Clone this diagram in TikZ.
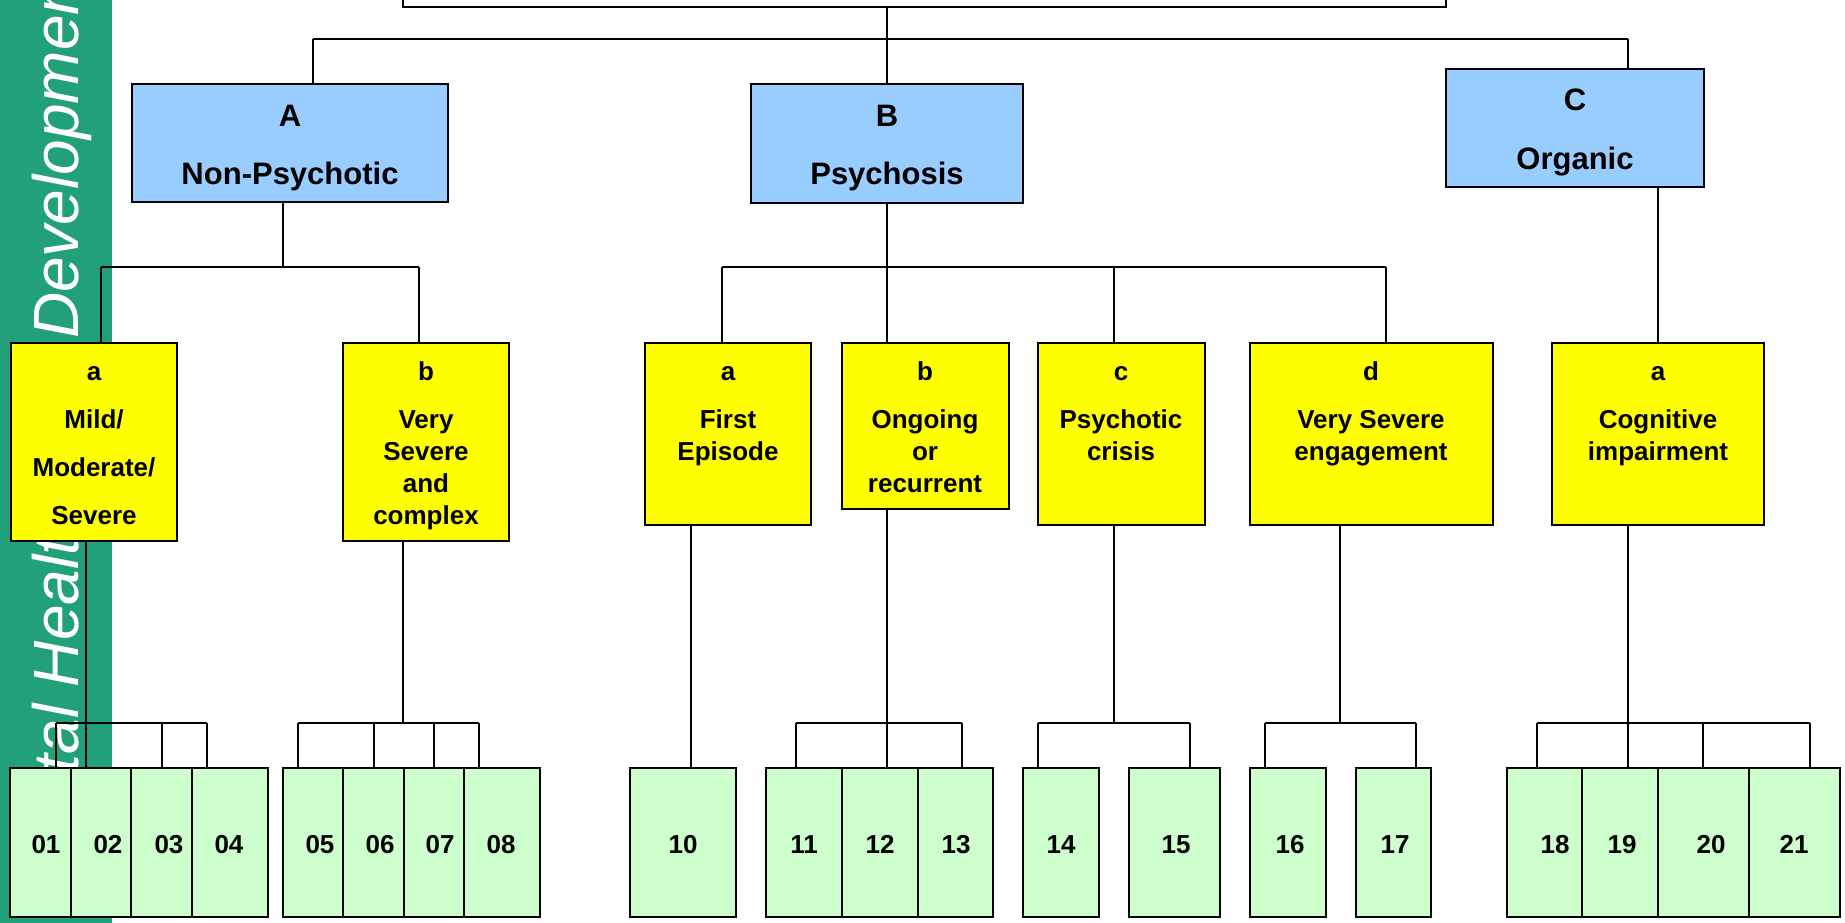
\documentclass[tikz,border=0pt]{standalone}
\usepackage{fontspec}
\setmainfont{Liberation Sans}
\usetikzlibrary{fit}
\definecolor{band}{RGB}{34,160,122}
\definecolor{bluebox}{RGB}{153,204,255}
\definecolor{yelbox}{RGB}{255,255,0}
\definecolor{grnbox}{RGB}{204,255,204}
\begin{document}
\begin{tikzpicture}[x=1pt,y=-1pt,
  box/.style={draw=black, line width=2pt, inner sep=0pt, rectangle},
  topbox/.style={box, fill=bluebox},
  catbox/.style={box, fill=yelbox},
  numbox/.style={box, fill=grnbox},
  conn/.style={draw=black, line width=1.8pt},
  bigtxt/.style={font=\bfseries\fontsize{31}{36}\selectfont, anchor=base, inner sep=0pt},
  ytxt/.style={font=\bfseries\fontsize{26}{32}\selectfont, anchor=base, inner sep=0pt, align=center},
  ytxtwide/.style={font=\bfseries\fontsize{26}{48}\selectfont, anchor=base, inner sep=0pt, align=center},
  numtxt/.style={font=\bfseries\fontsize{26}{32}\selectfont, anchor=base, inner sep=0pt},
  bandtxt/.style={rotate=90, anchor=base west, inner sep=0pt, text=white, font=\itshape\fontsize{64}{70}\selectfont}]
\useasboundingbox (0,0) rectangle (1845,923);
\clip (0,0) rectangle (1845,923);
% side band
\fill[band] (0,-5) rectangle (112,930);
\node[bandtxt] (bandM) at (78,897) {Mental Health};
\node[bandtxt] (bandD) at (78,339) {Development};

% top boxes
\node[box, fill=white, fit={(403,-40)(1446,7)}] (top) {};
\node[topbox, fit={(132,84)(448,202)}] (A) {};
\node[topbox, fit={(751,84)(1023,203)}] (B) {};
\node[topbox, fit={(1446,69)(1704,187)}] (C) {};

% connectors level 1
\coordinate (bus0L) at (313,39);
\coordinate (bus0R) at (1628,39);
\draw[conn] (bus0L) -- (bus0R);
\draw[conn] (top.south -| B.north) -- (B.north);
\draw[conn] (bus0L) -- (bus0L |- A.north);
\draw[conn] (bus0R) -- (bus0R |- C.north);

% category boxes
\node[catbox, fit={(11,343)(177,541)}] (Aa) {};
\node[catbox, fit={(343,343)(509,541)}] (Ab) {};
\node[catbox, fit={(645,343)(811,525)}] (Ba) {};
\node[catbox, fit={(842,343)(1009,509)}] (Bb) {};
\node[catbox, fit={(1038,343)(1205,525)}] (Bc) {};
\node[catbox, fit={(1250,343)(1493,525)}] (Bd) {};
\node[catbox, fit={(1552,343)(1764,525)}] (Ca) {};

% connectors level 2
\coordinate (aD) at (283,267);
\coordinate (aL) at (101,267);
\coordinate (aR) at (419,267);
\draw[conn] (aD |- A.south) -- (aD);
\draw[conn] (aL) -- (aR);
\draw[conn] (aL) -- (aL |- Aa.north);
\draw[conn] (aR) -- (aR |- Ab.north);

\coordinate (bL) at (722,267);
\coordinate (bR) at (1386,267);
\coordinate (bC) at (1114,267);
\draw[conn] (B.south) -- (B.south |- bL);
\draw[conn] (bL) -- (bR);
\draw[conn] (bL) -- (bL |- Ba.north);
\draw[conn] (B.south |- bL) -- (B.south |- Bb.north);
\draw[conn] (bC) -- (bC |- Bc.north);
\draw[conn] (bR) -- (bR |- Bd.north);

\coordinate (cD) at (1658,300);
\draw[conn] (cD |- C.south) -- (cD |- Ca.north);

% number boxes
\foreach \n/\xa/\xb in {01/10/71, 02/71/131, 03/131/192, 04/192/268,
  05/283/343, 06/343/404, 07/404/464, 08/464/540, 10/630/736,
  11/766/842, 12/842/918, 13/918/993, 14/1023/1099, 15/1129/1220,
  16/1250/1326, 17/1356/1431, 18/1507/1582, 19/1582/1658,
  20/1658/1749, 21/1749/1840}
  {\node[numbox, fit={(\xa,768)(\xb,917)}] (n\n) {};}

% connectors level 3
\coordinate (g1) at (86,723);
\coordinate (g1L) at (56,723);
\coordinate (g1a) at (162,723);
\coordinate (g1R) at (207,723);
\draw[conn] (g1 |- Aa.south) -- (g1 |- n02.north);
\draw[conn] (g1L) -- (g1R);
\draw[conn] (g1L) -- (g1L |- n01.north);
\draw[conn] (g1a) -- (g1a |- n03.north);
\draw[conn] (g1R) -- (g1R |- n04.north);

\coordinate (g2) at (403,723);
\coordinate (g2L) at (298,723);
\coordinate (g2a) at (374,723);
\coordinate (g2b) at (434,723);
\coordinate (g2R) at (479,723);
\draw[conn] (g2 |- Ab.south) -- (g2);
\draw[conn] (g2L) -- (g2R);
\draw[conn] (g2L) -- (g2L |- n05.north);
\draw[conn] (g2a) -- (g2a |- n06.north);
\draw[conn] (g2b) -- (g2b |- n07.north);
\draw[conn] (g2R) -- (g2R |- n08.north);

\coordinate (g3) at (691,723);
\draw[conn] (g3 |- Ba.south) -- (g3 |- n10.north);

\coordinate (g4) at (887,723);
\coordinate (g4L) at (796,723);
\coordinate (g4R) at (962,723);
\draw[conn] (g4 |- Bb.south) -- (g4 |- n12.north);
\draw[conn] (g4L) -- (g4R);
\draw[conn] (g4L) -- (g4L |- n11.north);
\draw[conn] (g4R) -- (g4R |- n13.north);

\coordinate (g5) at (1114,723);
\coordinate (g5L) at (1038,723);
\coordinate (g5R) at (1190,723);
\draw[conn] (g5 |- Bc.south) -- (g5);
\draw[conn] (g5L) -- (g5R);
\draw[conn] (g5L) -- (g5L |- n14.north);
\draw[conn] (g5R) -- (g5R |- n15.north);

\coordinate (g6) at (1340,723);
\coordinate (g6L) at (1265,723);
\coordinate (g6R) at (1416,723);
\draw[conn] (g6 |- Bd.south) -- (g6);
\draw[conn] (g6L) -- (g6R);
\draw[conn] (g6L) -- (g6L |- n16.north);
\draw[conn] (g6R) -- (g6R |- n17.north);

\coordinate (g7) at (1628,723);
\coordinate (g7L) at (1537,723);
\coordinate (g7a) at (1703,723);
\coordinate (g7R) at (1810,723);
\draw[conn] (g7 |- Ca.south) -- (g7 |- n19.north);
\draw[conn] (g7L) -- (g7R);
\draw[conn] (g7L) -- (g7L |- n18.north);
\draw[conn] (g7a) -- (g7a |- n20.north);
\draw[conn] (g7R) -- (g7R |- n21.north);

% texts
\node[bigtxt] (tA1) at (290,127) {A};
\node[bigtxt] (tA2) at (290,184) {Non-Psychotic};
\node[bigtxt] (tB1) at (887,127) {B};
\node[bigtxt] (tB2) at (887,185) {Psychosis};
\node[bigtxt] (tC1) at (1575,111) {C};
\node[bigtxt] (tC2) at (1575,169) {Organic};

\foreach \nm/\x/\l in {Aa/94/a, Ab/426/b, Ba/728/a, Bb/925/b, Bc/1121/c, Bd/1371/d, Ca/1658/a}
  {\node[ytxt] (l\nm) at (\x,380) {\l};}
% multi-line texts: base anchor = baseline of the last line
\node[ytxtwide] (dAa) at (94,524) {Mild/\\Moderate/\\Severe};
\node[ytxt] (dAb) at (426,524) {Very\\Severe\\and\\complex};
\node[ytxt] (dBa) at (728,460) {First\\Episode};
\node[ytxt] (dBb) at (925,492) {Ongoing\\or\\recurrent};
\node[ytxt] (dBc) at (1121,460) {Psychotic\\crisis};
\node[ytxt] (dBd) at (1371,460) {Very Severe\\engagement};
\node[ytxt] (dCa) at (1658,460) {Cognitive\\impairment};

\foreach \n/\x in {01/46, 02/108, 03/169, 04/229, 05/320, 06/380, 07/440,
  08/501, 10/683, 11/804, 12/880, 13/956, 14/1061, 15/1176, 16/1290,
  17/1395, 18/1555, 19/1622, 20/1711, 21/1794}
  {\node[numtxt] (t\n) at (\x,853) {\n};}
\end{tikzpicture}
\end{document}
